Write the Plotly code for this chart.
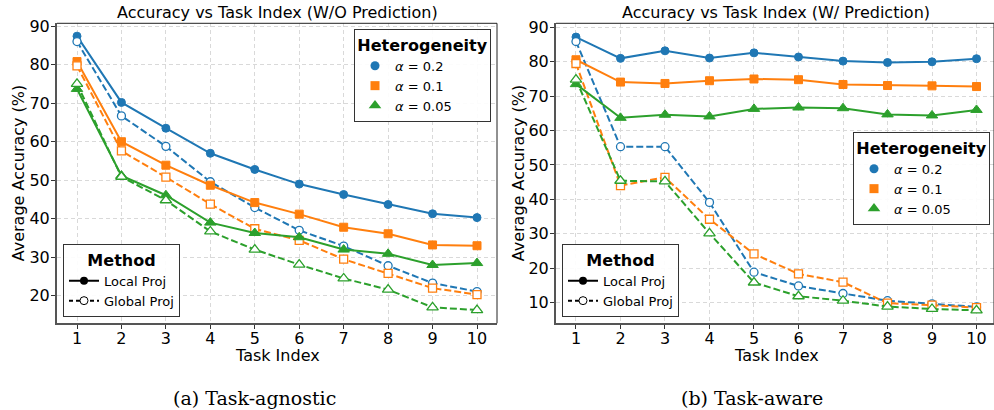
import plotly.graph_objects as go

tasks = list(range(1, 11))
alpha_labels = ["0.2", "0.1", "0.05"]
colors = ["#1f77b4", "#ff7f0e", "#2ca02c"]
symbols = ["circle", "square", "triangle-up"]
msizes = [8, 8, 10]

# (a) Task-agnostic: W/O Prediction
wo_local_02 = [87.4, 70.2, 63.5, 57.0, 52.8, 49.0, 46.3, 43.7, 41.3, 40.3]
wo_global_02 = [86.0, 66.7, 58.8, 49.6, 42.9, 37.0, 32.9, 27.8, 23.3, 21.1]
wo_local_01 = [80.8, 60.0, 53.9, 48.7, 44.2, 41.2, 37.8, 36.1, 33.2, 33.0]
wo_global_01 = [79.7, 57.6, 50.8, 43.8, 37.4, 34.4, 29.5, 25.8, 22.0, 20.3]
wo_local_005 = [73.7, 51.2, 46.1, 39.0, 36.3, 35.2, 32.0, 30.9, 28.0, 28.5]
wo_global_005 = [75.0, 50.9, 44.8, 36.7, 32.0, 28.1, 24.5, 21.6, 17.0, 16.3]

# (b) Task-aware: W/ Prediction
w_local_02 = [87.2, 81.0, 83.2, 81.1, 82.6, 81.4, 80.2, 79.8, 80.0, 80.9]
w_global_02 = [85.9, 55.3, 55.3, 39.1, 18.8, 14.8, 12.6, 10.5, 9.6, 8.7]
w_local_01 = [80.6, 74.1, 73.7, 74.5, 75.0, 74.8, 73.4, 73.1, 73.0, 72.8]
w_global_01 = [79.5, 44.0, 46.4, 34.2, 24.1, 18.3, 15.9, 9.8, 9.2, 8.5]
w_local_005 = [73.5, 63.7, 64.6, 64.1, 66.3, 66.7, 66.5, 64.7, 64.4, 66.0]
w_global_005 = [74.8, 45.4, 45.2, 30.1, 15.8, 11.8, 10.5, 8.8, 8.1, 7.7]

left_local = [wo_local_02, wo_local_01, wo_local_005]
left_global = [wo_global_02, wo_global_01, wo_global_005]
right_local = [w_local_02, w_local_01, w_local_005]
right_global = [w_global_02, w_global_01, w_global_005]

titles = ["Accuracy vs Task Index (W/O Prediction)", "Accuracy vs Task Index (W/ Prediction)"]
captions = ["(a) Task-agnostic", "(b) Task-aware"]
x_title = "Task Index"
y_title = "Average Accuracy (%)"
method_names = ["Local Proj", "Global Proj"]
legend_title_het = "Heterogeneity"
legend_title_method = "Method"

FONT = "DejaVu Sans"
DASH = "7px,3px"

fig = go.Figure()

def add_panel(local, glob, xa, ya):
    for i in range(3):
        fig.add_trace(go.Scatter(
            x=tasks, y=local[i], mode="lines+markers", xaxis=xa, yaxis=ya,
            line=dict(color=colors[i], width=2),
            marker=dict(symbol=symbols[i], size=msizes[i], color=colors[i],
                        line=dict(color=colors[i], width=1)),
            showlegend=False))
        fig.add_trace(go.Scatter(
            x=tasks, y=glob[i], mode="lines+markers", xaxis=xa, yaxis=ya,
            line=dict(color=colors[i], width=2, dash=DASH),
            marker=dict(symbol=symbols[i], size=msizes[i], color="white",
                        line=dict(color=colors[i], width=1.3)),
            showlegend=False))

add_panel(left_local, left_global, "x", "y")
add_panel(right_local, right_global, "x2", "y2")

# legend entries
def add_legends(het_legend, meth_legend):
    for i in range(3):
        fig.add_trace(go.Scatter(
            x=[None], y=[None], mode="markers",
            marker=dict(symbol=symbols[i], size=msizes[i] + 1, color=colors[i]),
            name=f"<i>α</i> = {alpha_labels[i]}", legend=het_legend))
    fig.add_trace(go.Scatter(
        x=[None], y=[None], mode="lines+markers",
        line=dict(color="black", width=2),
        marker=dict(symbol="circle", size=8, color="black"),
        name=method_names[0], legend=meth_legend))
    fig.add_trace(go.Scatter(
        x=[None], y=[None], mode="lines+markers",
        line=dict(color="black", width=2, dash="4px,3px"),
        marker=dict(symbol="circle", size=8, color="white", line=dict(color="black", width=1)),
        name=method_names[1], legend=meth_legend))

add_legends("legend", "legend2")
add_legends("legend3", "legend4")

W, H = 994, 410
ydom = [(H - 323.3) / H, (H - 23.3) / H]
xdom1 = [57 / W, 497 / W]
xdom2 = [556 / W, 1.0]

axis_common = dict(
    showgrid=True, gridcolor="#d9d9d9", griddash="4px,3px", gridwidth=0.8,
    showline=True, linecolor="#555555", linewidth=2,
    ticks="outside", ticklen=4, tickwidth=1.2, tickcolor="#333333",
    tickfont=dict(family=FONT, size=16, color="black"),
    zeroline=False, automargin=False,
)

fig.update_layout(
    width=W, height=H,
    margin=dict(l=0, r=0, t=0, b=0),
    paper_bgcolor="white", plot_bgcolor="white",
    font=dict(family=FONT, color="black"),
    xaxis=dict(domain=xdom1, range=[0.55, 10.45], tickvals=tasks, anchor="y",
               ticklabelstandoff=-5, **axis_common),
    yaxis=dict(domain=ydom, range=[12.86, 90.74], tickvals=[20, 30, 40, 50, 60, 70, 80, 90], anchor="x",
               ticklabelstandoff=-2, **axis_common),
    xaxis2=dict(domain=xdom2, range=[0.551, 10.393], tickvals=tasks, anchor="y2",
                ticklabelstandoff=-5, **axis_common),
    yaxis2=dict(domain=ydom, range=[3.93, 91.2], tickvals=[10, 20, 30, 40, 50, 60, 70, 80, 90], anchor="x2",
                ticklabelstandoff=-2, **axis_common),
)

legend_common = dict(
    bgcolor="rgba(255,255,255,0.9)", bordercolor="#333333", borderwidth=1,
    font=dict(family=FONT, size=13, color="black"),
    xref="paper", yref="paper", tracegroupgap=0,
)
fig.update_layout(
    legend=dict(x=491 / W, y=(H - 29) / H, xanchor="right", yanchor="top",
                title=dict(text=f"<b>{legend_title_het}</b>", side="top center",
                           font=dict(family=FONT, size=16)), **legend_common),
    legend2=dict(x=63 / W, y=(H - 317) / H, xanchor="left", yanchor="bottom",
                 title=dict(text=f"<b>{legend_title_method}</b>", side="top center",
                            font=dict(family=FONT, size=16)), **legend_common),
    legend3=dict(x=990 / W, y=(H - 132) / H, xanchor="right", yanchor="top",
                 title=dict(text=f"<b>{legend_title_het}</b>", side="top center",
                            font=dict(family=FONT, size=16)), **legend_common),
    legend4=dict(x=562 / W, y=(H - 317) / H, xanchor="left", yanchor="bottom",
                 title=dict(text=f"<b>{legend_title_method}</b>", side="top center",
                            font=dict(family=FONT, size=16)), **legend_common),
)

# top/right spines
for xr, yr in [("x domain", "y domain"), ("x2 domain", "y2 domain")]:
    fig.add_shape(type="line", xref=xr, yref=yr, x0=0, x1=1, y0=1, y1=1,
                  line=dict(color="#222222", width=1))
    fig.add_shape(type="line", xref=xr, yref=yr, x0=1, x1=1, y0=0, y1=1,
                  line=dict(color="#222222", width=1))

annots = []
for cx, t in zip([277 / W, 776 / W], titles):
    annots.append(dict(x=cx, y=(H - 12) / H, xref="paper", yref="paper", text=t,
                       showarrow=False, xanchor="center", yanchor="middle",
                       font=dict(family=FONT, size=16, color="black")))
for cx in [277 / W, 776 / W]:
    annots.append(dict(x=cx, y=(H - 355) / H, xref="paper", yref="paper", text=x_title,
                       showarrow=False, xanchor="center", yanchor="middle",
                       font=dict(family=FONT, size=16, color="black")))
for cx in [18 / W, 518 / W]:
    annots.append(dict(x=cx, y=(H - 173.3) / H, xref="paper", yref="paper", text=y_title,
                       showarrow=False, xanchor="center", yanchor="middle", textangle=-90,
                       font=dict(family=FONT, size=16, color="black")))
for cx, c in zip([254 / W, 752 / W], captions):
    annots.append(dict(x=cx, y=(H - 398) / H, xref="paper", yref="paper", text=c,
                       showarrow=False, xanchor="center", yanchor="middle",
                       font=dict(family="DejaVu Serif", size=19, color="black")))
fig.update_layout(annotations=annots)

fig.write_html("out.html", config={"displayModeBar": False},
               post_script="document.body.style.margin='0';document.body.style.padding='0';")
